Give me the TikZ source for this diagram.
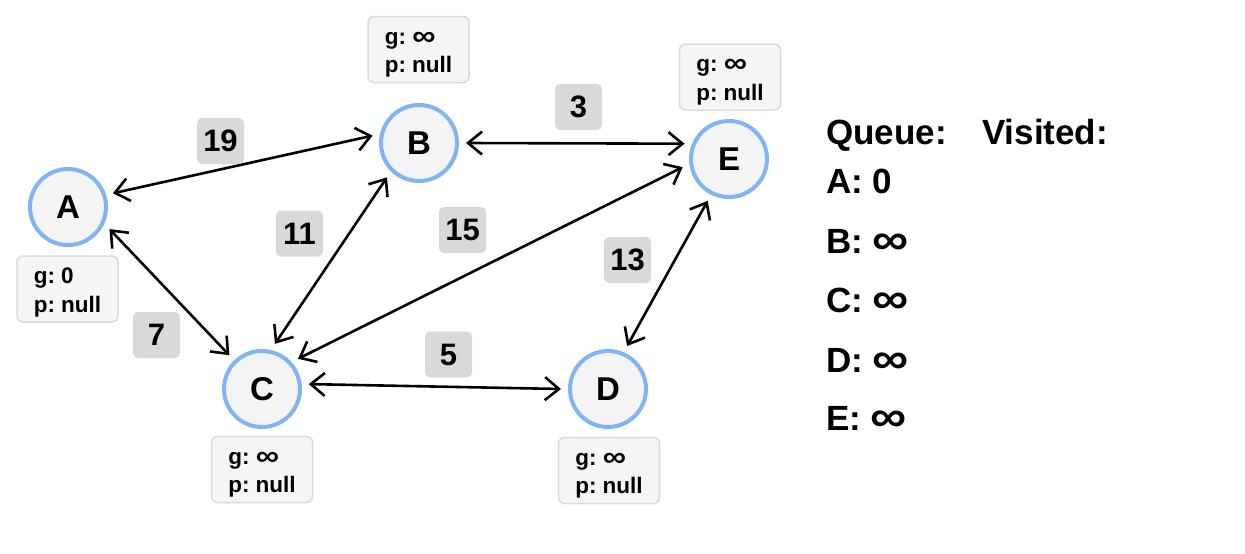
\documentclass[tikz,border=0pt]{standalone}
\usepackage{fontspec}
\usepackage{graphicx}
\setmainfont{Liberation Sans}
\frenchspacing
\usetikzlibrary{arrows.meta}

% a wider infinity sign, centred on the capital height
\newcommand{\infsym}{\raisebox{-0.05em}{\scalebox{1.45}[1.25]{∞}}}
% strut that lowers the two-line text inside the info boxes
\newcommand{\topstrut}{\rule{0pt}{22.5pt}}

\definecolor{ring}{RGB}{127,181,245}
\definecolor{nodefill}{RGB}{244,244,244}
\definecolor{infofill}{RGB}{245,245,245}
\definecolor{infoedge}{RGB}{218,218,218}
\definecolor{wfill}{RGB}{217,217,217}

\begin{document}
\begin{tikzpicture}[x=1pt,y=-1pt,
  vertex/.style={circle, draw=ring, line width=4pt, fill=nodefill,
    minimum size=76pt, inner sep=0pt, outer sep=9pt,
    font=\fontsize{33}{38}\selectfont\bfseries},
  info/.style={rounded corners=6pt, draw=infoedge, line width=1.5pt,
    fill=infofill, minimum width=101pt, minimum height=66pt,
    align=left, inner sep=0pt,
    font=\fontsize{22.5}{28.5}\selectfont\bfseries},
  weight/.style={rounded corners=5pt, fill=wfill, minimum width=47pt,
    minimum height=46pt, inner sep=0pt,
    font=\fontsize{31}{36}\selectfont\bfseries},
  link/.style={line width=2.6pt, line cap=round,
    {Straight Barb[length=14pt,width=23pt]}-{Straight Barb[length=14pt,width=23pt]}},
  qtext/.style={anchor=base west, inner sep=0pt,
    font=\fontsize{35}{40}\selectfont\bfseries}]

  \useasboundingbox (0,0) rectangle (1245,554);

  % graph vertices
  \node[vertex] (A) at (68,207) {A};
  \node[vertex] (B) at (419,143) {B};
  \node[vertex] (C) at (262,389) {C};
  \node[vertex] (D) at (608,389) {D};
  \node[vertex] (E) at (729,159) {E};

  % cost / parent boxes
  \node[info] (Ai) at (67.5,289) {\topstrut g: 0\\p: null};
  \node[info] (Bi) at (418.5,49.5) {\topstrut g: \infsym\\p: null};
  \node[info] (Ei) at (730,77) {\topstrut g: \infsym\\p: null};
  \node[info] (Ci) at (262,469.5) {\topstrut g: \infsym\\p: null};
  \node[info] (Di) at (609,470.5) {\topstrut g: \infsym\\p: null};

  % edges
  \draw[link] (A.17) -- (B.171);
  \draw[link] (A.-28) -- (C.134);
  \draw[link] (B.227) -- (C.74);
  \draw[link] (C.40) -- (E.190);
  \draw[link] (B.0) -- (E.161);
  \draw[link] (E.243) -- (D.66);
  \draw[link] (C.6) -- (D.180);

  % edge weights
  \node[weight] (w19) at (220.5,141) {19};
  \node[weight] (w7) at (156.5,335) {7};
  \node[weight] (w11) at (299.5,233.5) {11};
  \node[weight] (w15) at (462.5,230) {15};
  \node[weight] (w3) at (578.5,107) {3};
  \node[weight] (w13) at (627.5,260) {13};
  \node[weight] (w5) at (448.5,354.5) {5};

  % queue and visited lists
  \node[qtext] (q) at (826,144) {Queue:};
  \node[qtext] (v) at (982,144) {Visited:};
  \node[qtext] (qa) at (826,193) {A: 0};
  \node[qtext] (qb) at (826,253) {B: \infsym};
  \node[qtext] (qc) at (826,312) {C: \infsym};
  \node[qtext] (qd) at (826,372) {D: \infsym};
  \node[qtext] (qe) at (826,430) {E: \infsym};
\end{tikzpicture}
\end{document}
